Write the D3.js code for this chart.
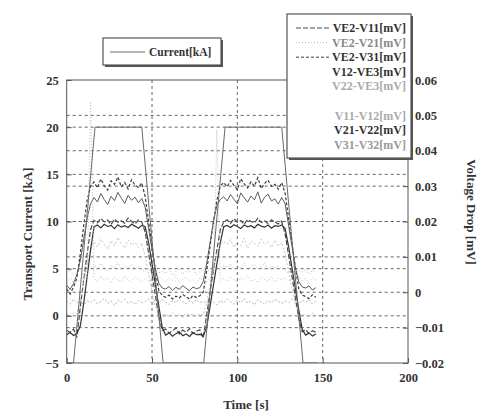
<!DOCTYPE html>
<html>
<head>
<meta charset="utf-8">
<script src="https://cdn.jsdelivr.net/npm/d3@7/dist/d3.min.js"></script>
<style>
  body { margin: 0; background: #fff; }
  svg { display: block; font-family: "Liberation Serif", "Times New Roman", serif; font-weight: bold; }
</style>
</head>
<body>
<div id="chart"></div>
<script>
// Sample times [s] shared by every voltage trace
const times = [0, 2, 4, 6, 8, 10, 12, 14, 16, 18, 20, 22, 24, 26, 28, 30, 32, 34, 36, 38, 40, 42, 44,
  46, 48, 50, 52, 54, 56, 58, 60, 62, 64, 66, 68, 70, 72, 74, 76, 78, 80, 82, 84, 86, 88, 90, 92,
  94, 96, 98, 100, 102, 104, 106, 108, 110, 112, 114, 116, 118, 120, 122, 124, 126,
  128, 130, 132, 134, 136, 138, 140, 142, 144, 146];

// Transport current [kA]
const currentTimes = [0, 4, 16.6, 44, 56.5, 80.3, 92.8, 126, 138.5, 147];
const currentValues = [-5, -5, 20, 20, -5, -5, 20, 20, -5, -5];

// Voltage drops [mV]
const ve2V11 = [-0.0108, -0.0113, -0.0104, -0.0128,
  -0.0040, 0.0035, 0.0110, 0.0178,
  0.0203, 0.0196, 0.0209, 0.0199, 0.0204, 0.0191, 0.0207, 0.0198, 0.0202, 0.0195, 0.0210, 0.0200, 0.0193, 0.0204, 0.0199,
  0.0170, 0.0110, 0.0050, -0.0010, -0.0070, -0.0108,
  -0.0104, -0.0116, -0.0109, -0.0101, -0.0118, -0.0107, -0.0113, -0.0103, -0.0117, -0.0110, -0.0106, -0.0130,
  -0.0065, 0.0000, 0.0062, 0.0120, 0.0176, 0.0199,
  0.0205, 0.0194, 0.0208, 0.0198, 0.0203, 0.0192, 0.0206, 0.0200, 0.0196, 0.0209, 0.0197, 0.0202, 0.0194, 0.0205, 0.0199, 0.0193, 0.0201,
  0.0165, 0.0105, 0.0045, -0.0015, -0.0075, -0.0112,
  -0.0106, -0.0117, -0.0109, -0.0113];
const ve2V21 = [0.0052, 0.0064, 0.0047, 0.0058,
  0.0066, 0.0049, 0.0061, 0.0070,
  0.0078, 0.0065, 0.0082, 0.0071, 0.0060, 0.0076, 0.0068, 0.0085, 0.0063, 0.0074, 0.0069, 0.0080, 0.0066, 0.0072, 0.0064,
  0.0058, 0.0067, 0.0050, 0.0062, 0.0055, 0.0060,
  0.0053, 0.0064, 0.0048, 0.0059, 0.0066, 0.0051, 0.0061, 0.0056, 0.0068, 0.0050, 0.0058, 0.0063,
  0.0055, 0.0067, 0.0060, 0.0072, 0.0065, 0.0077,
  0.0070, 0.0081, 0.0064, 0.0075, 0.0068, 0.0083, 0.0062, 0.0073, 0.0079, 0.0066, 0.0071, 0.0084, 0.0063, 0.0076, 0.0069, 0.0074, 0.0067,
  0.0061, 0.0054, 0.0066, 0.0052, 0.0063, 0.0057,
  0.0065, 0.0050, 0.0062, 0.0056];
const ve2V31 = [0.0010, -0.0005, 0.0015, 0.0040,
  0.0110, 0.0190, 0.0260, 0.0300,
  0.0312, 0.0295, 0.0320, 0.0301, 0.0289, 0.0315, 0.0305, 0.0326, 0.0298, 0.0310, 0.0292, 0.0318, 0.0303, 0.0296, 0.0309,
  0.0270, 0.0200, 0.0130, 0.0060, 0.0005, -0.0010,
  -0.0014, -0.0008, -0.0019, -0.0011, -0.0016, -0.0006, -0.0013, -0.0020, -0.0009, -0.0015, -0.0010, 0.0000,
  0.0060, 0.0130, 0.0200, 0.0260, 0.0300, 0.0310,
  0.0298, 0.0316, 0.0302, 0.0290, 0.0321, 0.0306, 0.0295, 0.0312, 0.0300, 0.0324, 0.0293, 0.0308, 0.0317, 0.0299, 0.0305, 0.0291, 0.0310,
  0.0280, 0.0210, 0.0140, 0.0070, 0.0010, -0.0008,
  -0.0012, -0.0018, -0.0007, -0.0014];
const v12VE3 = [0.0020, 0.0008, 0.0025, 0.0050,
  0.0090, 0.0150, 0.0210, 0.0250,
  0.0268, 0.0255, 0.0279, 0.0262, 0.0248, 0.0271, 0.0259, 0.0282, 0.0266, 0.0251, 0.0274, 0.0260, 0.0269, 0.0253, 0.0265,
  0.0240, 0.0180, 0.0120, 0.0065, 0.0025, 0.0012,
  0.0009, 0.0016, 0.0005, 0.0014, 0.0008, 0.0019, 0.0011, 0.0004, 0.0015, 0.0010, 0.0013, 0.0030,
  0.0080, 0.0140, 0.0200, 0.0245, 0.0262, 0.0270,
  0.0258, 0.0276, 0.0263, 0.0250, 0.0281, 0.0267, 0.0255, 0.0272, 0.0261, 0.0284, 0.0252, 0.0269, 0.0277, 0.0258, 0.0264, 0.0249, 0.0268,
  0.0250, 0.0190, 0.0130, 0.0070, 0.0030, 0.0015,
  0.0012, 0.0018, 0.0006, 0.0013];
const v22VE3 = [-0.0025, -0.0034, -0.0019, -0.0030,
  -0.0022, -0.0036, -0.0024, -0.0029,
  -0.0021, -0.0033, -0.0026, -0.0018, -0.0031, -0.0024, -0.0037, -0.0022, -0.0028, -0.0020, -0.0032, -0.0025, -0.0035, -0.0023, -0.0029,
  -0.0026, -0.0019, -0.0033, -0.0024, -0.0030, -0.0021,
  -0.0028, -0.0035, -0.0022, -0.0030, -0.0018, -0.0027, -0.0033, -0.0024, -0.0031, -0.0020, -0.0029, -0.0025,
  -0.0032, -0.0021, -0.0028, -0.0036, -0.0023, -0.0030,
  -0.0019, -0.0027, -0.0034, -0.0022, -0.0029, -0.0017, -0.0031, -0.0025, -0.0036, -0.0021, -0.0028, -0.0033, -0.0023, -0.0030, -0.0020, -0.0026, -0.0032,
  -0.0024, -0.0030, -0.0019, -0.0027, -0.0034, -0.0022,
  -0.0029, -0.0021, -0.0033, -0.0025];
const v11V12 = [-0.0060, -0.0068, -0.0057, -0.0062,
  -0.0020, 0.0030, 0.0080, 0.0120,
  0.0142, 0.0128, 0.0150, 0.0135, 0.0122, 0.0146, 0.0131, 0.0155, 0.0138, 0.0125, 0.0148, 0.0133, 0.0141, 0.0127, 0.0139,
  0.0100, 0.0050, 0.0000, -0.0040, -0.0060, -0.0066,
  -0.0061, -0.0069, -0.0058, -0.0066, -0.0063, -0.0071, -0.0059, -0.0065, -0.0062, -0.0068, -0.0060, -0.0064,
  -0.0030, 0.0020, 0.0070, 0.0110, 0.0135, 0.0144,
  0.0136, 0.0149, 0.0127, 0.0141, 0.0132, 0.0153, 0.0124, 0.0145, 0.0138, 0.0129, 0.0150, 0.0134, 0.0143, 0.0126, 0.0147, 0.0131, 0.0140,
  0.0110, 0.0060, 0.0010, -0.0035, -0.0058, -0.0065,
  -0.0062, -0.0070, -0.0059, -0.0066];
const v21V22 = [-0.0120, -0.0114, -0.0122, -0.0116,
  -0.0095, -0.0030, 0.0045, 0.0120,
  0.0185, 0.0190, 0.0182, 0.0192, 0.0186, 0.0189, 0.0180, 0.0191, 0.0184, 0.0188, 0.0183, 0.0192, 0.0187, 0.0181, 0.0189,
  0.0185, 0.0140, 0.0080, 0.0020, -0.0040, -0.0100,
  -0.0121, -0.0115, -0.0124, -0.0117, -0.0112, -0.0123, -0.0118, -0.0125, -0.0114, -0.0120, -0.0119, -0.0122,
  -0.0100, -0.0040, 0.0020, 0.0080, 0.0140, 0.0185,
  0.0189, 0.0183, 0.0191, 0.0186, 0.0180, 0.0190, 0.0185, 0.0188, 0.0182, 0.0192, 0.0187, 0.0184, 0.0190, 0.0181, 0.0188, 0.0186, 0.0190,
  0.0180, 0.0130, 0.0070, 0.0010, -0.0050, -0.0105,
  -0.0121, -0.0115, -0.0124, -0.0118];
const v31V32 = [0.0032, 0.0041, 0.0027, 0.0038,
  0.0030, 0.0044, 0.0036, 0.0540,
  0.0039, 0.0029, 0.0045, 0.0033, 0.0040, 0.0026, 0.0042, 0.0035, 0.0031, 0.0047, 0.0034, 0.0028, 0.0043, 0.0037, 0.0030,
  0.0041, 0.0032, 0.0038, 0.0027, 0.0044, 0.0035,
  0.0030, 0.0039, 0.0033, 0.0046, 0.0028, 0.0037, 0.0042, 0.0031, 0.0036, 0.0025, 0.0040, 0.0034,
  0.0029, 0.0043, 0.0036, 0.0460, 0.0032, 0.0039,
  0.0031, 0.0045, 0.0035, 0.0028, 0.0041, 0.0034, 0.0048, 0.0030, 0.0038, 0.0027, 0.0043, 0.0036, 0.0032, 0.0044, 0.0029, 0.0040, 0.0035,
  0.0042, 0.0031, 0.0037, 0.0026, 0.0045, 0.0033,
  0.0039, 0.0028, 0.0041, 0.0034];

const seriesNames = ["VE2-V11[mV]", "VE2-V21[mV]", "VE2-V31[mV]", "V12-VE3[mV]",
  "V22-VE3[mV]", "V11-V12[mV]", "V21-V22[mV]", "V31-V32[mV]"];
const seriesValues = [ve2V11, ve2V21, ve2V31, v12VE3, v22VE3, v11V12, v21V22, v31V32];

const xTicks = [0, 50, 100, 150, 200];
const leftTicks = [-5, 0, 5, 10, 15, 20, 25];
const rightTicks = [-0.02, -0.01, 0, 0.01, 0.02, 0.03, 0.04, 0.05, 0.06];

// Styles per series (scan is grayscale)
const lineColors = ["#4a4a4a", "#b8b8b8", "#3c3c3c", "#5a5a5a", "#b0b0b0", "#c2c2c2", "#333", "#bdbdbd"];
const textColors = ["#333", "#888", "#333", "#333", "#aaa", "#aaa", "#333", "#999"];
const dashes = ["5,2", "1,2", "3,2", null, "2,2", "2,2", null, "1,2"];
const widths = [1.2, 1, 1.2, 1, 1, 1, 1.2, 1];
const legendRow = [0, 1, 2, 3, 4, 6, 7, 8];
const legendSample = [true, true, true, false, false, false, false, false];

const width = 482, height = 413;
const margin = { top: 80, right: 74, bottom: 50, left: 66.7 };
const plotW = width - margin.left - margin.right;
const plotH = height - margin.top - margin.bottom;
const serif = '"Liberation Serif", "Times New Roman", serif';

const svg = d3.select("#chart").append("svg")
  .attr("width", width)
  .attr("height", height);

const x = d3.scaleLinear().domain([0, 200]).range([margin.left, margin.left + plotW]);
const yL = d3.scaleLinear().domain([-5, 25]).range([margin.top + plotH, margin.top]);
const yR = d3.scaleLinear().domain([-0.02, 0.06]).range([margin.top + plotH, margin.top]);

svg.append("clipPath").attr("id", "plot-clip")
  .append("rect")
  .attr("x", margin.left).attr("y", margin.top)
  .attr("width", plotW).attr("height", plotH);

// Grid lines (both y axes have their own)
const grid = svg.append("g").attr("stroke", "#666").attr("stroke-width", 1).attr("stroke-dasharray", "3,3");
grid.selectAll(".gx").data(xTicks.slice(1, -1)).join("line")
  .attr("x1", d => x(d)).attr("x2", d => x(d))
  .attr("y1", margin.top).attr("y2", margin.top + plotH);
grid.selectAll(".gl").data(leftTicks.slice(1, -1)).join("line")
  .attr("class", "gl")
  .attr("x1", margin.left).attr("x2", margin.left + plotW)
  .attr("y1", d => yL(d)).attr("y2", d => yL(d));
grid.selectAll(".gr").data(rightTicks.slice(1, -1)).join("line")
  .attr("class", "gr")
  .attr("x1", margin.left).attr("x2", margin.left + plotW)
  .attr("y1", d => yR(d)).attr("y2", d => yR(d));

// Voltage traces
const plot = svg.append("g").attr("clip-path", "url(#plot-clip)");
const vLine = d3.line()
  .x((d, i) => x(times[i]))
  .y(d => yR(d));

seriesValues.forEach((vals, k) => {
  plot.append("path")
    .datum(vals)
    .attr("fill", "none")
    .attr("stroke", lineColors[k])
    .attr("stroke-width", widths[k])
    .attr("stroke-dasharray", dashes[k])
    .attr("d", vLine);
});

// Current trace
const cLine = d3.line()
  .x((d, i) => x(currentTimes[i]))
  .y(d => yL(d));
plot.append("path")
  .datum(currentValues)
  .attr("fill", "none")
  .attr("stroke", "#6a6a6a")
  .attr("stroke-width", 1)
  .attr("d", cLine);

// Frame
svg.append("rect")
  .attr("x", margin.left).attr("y", margin.top)
  .attr("width", plotW).attr("height", plotH)
  .attr("fill", "none").attr("stroke", "#555").attr("stroke-width", 1);

// Axes with inward ticks
const styleAxis = g => {
  g.attr("font-family", serif).attr("font-size", 12.5);
  g.select(".domain").remove();
  g.selectAll(".tick line").attr("stroke", "#555");
  g.selectAll("text").attr("fill", "#333").style("font-weight", "bold");
};

svg.append("g")
  .attr("transform", `translate(0,${margin.top + plotH})`)
  .call(d3.axisBottom(x).tickValues(xTicks).tickSize(-5).tickPadding(10).tickFormat(d3.format("d")))
  .call(styleAxis);

svg.append("g")
  .attr("transform", `translate(${margin.left},0)`)
  .call(d3.axisLeft(yL).tickValues(leftTicks).tickSize(-5).tickPadding(8).tickFormat(d3.format("d")))
  .call(styleAxis);

svg.append("g")
  .attr("transform", `translate(${margin.left + plotW},0)`)
  .call(d3.axisRight(yR).tickValues(rightTicks).tickSize(-5).tickPadding(7).tickFormat(d => d === 0 ? "0" : d3.format(".2f")(d)))
  .call(styleAxis);

// Axis titles
svg.append("text")
  .attr("x", 246).attr("y", 409)
  .attr("text-anchor", "middle")
  .attr("fill", "#333").style("font-size", "13px")
  .text("Time [s]");

svg.append("text")
  .attr("transform", "translate(32,234) rotate(-90)")
  .attr("text-anchor", "middle")
  .attr("fill", "#333").style("font-size", "13px")
  .text("Transport Current [kA]");

svg.append("text")
  .attr("transform", "translate(467,212) rotate(90)")
  .attr("text-anchor", "middle")
  .attr("fill", "#333").style("font-size", "13px")
  .text("Voltage Drop [mV]");

// Legend boxes with a drop shadow edge
function legendBox(x0, y0, w, h) {
  svg.append("rect").attr("x", x0 + 2).attr("y", y0 + 2).attr("width", w).attr("height", h)
    .attr("fill", "#555");
  svg.append("rect").attr("x", x0).attr("y", y0).attr("width", w).attr("height", h)
    .attr("fill", "#fff").attr("stroke", "#555").attr("stroke-width", 1.2);
}

legendBox(103, 38, 118, 27);
svg.append("line")
  .attr("x1", 110).attr("x2", 145).attr("y1", 52).attr("y2", 52)
  .attr("stroke", "#6a6a6a").attr("stroke-width", 1);
svg.append("text")
  .attr("x", 149).attr("y", 56)
  .attr("fill", "#333").style("font-size", "11.5px")
  .text("Current[kA]");

legendBox(287, 14, 124, 144);
const legend = svg.append("g");
seriesNames.forEach((name, k) => {
  const cy = 28 + legendRow[k] * 14.6;
  if (legendSample[k]) {
    legend.append("line")
      .attr("x1", 296).attr("x2", 329).attr("y1", cy).attr("y2", cy)
      .attr("stroke", lineColors[k]).attr("stroke-width", 1)
      .attr("stroke-dasharray", dashes[k]);
  }
  legend.append("text")
    .attr("x", 406).attr("y", cy + 4)
    .attr("text-anchor", "end")
    .attr("fill", textColors[k]).style("font-size", "12px")
    .text(name);
});
</script>
</body>
</html>
